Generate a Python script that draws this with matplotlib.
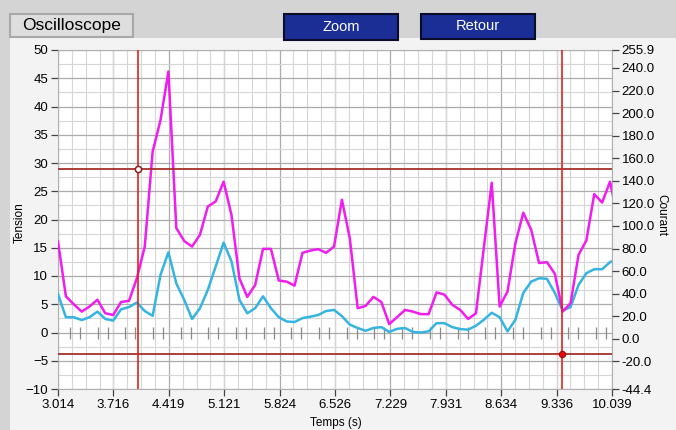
import numpy as np
import matplotlib.pyplot as plt
from matplotlib.patches import Rectangle, FancyBboxPatch
from matplotlib.ticker import FixedLocator, MultipleLocator, FormatStrFormatter

plt.rcParams['font.family'] = ['Liberation Sans', 'DejaVu Sans']

t_start = 3.014
t_end = 10.039
dt = 0.1  # pas d'échantillonnage

tension = [16.1, 6.4, 5.0, 3.7, 4.6, 5.8, 3.4, 3.1, 5.4, 5.6,
           9.6, 15.2, 32.0, 37.6, 46.2, 18.5, 16.2, 15.2, 17.3, 22.3,
           23.2, 26.7, 20.8, 9.6, 6.3, 8.4, 14.8, 14.8, 9.2, 9.0,
           8.3, 14.1, 14.5, 14.75, 14.1, 15.2, 23.5, 16.7, 4.3, 4.7,
           6.3, 5.4, 1.5, 2.7, 4.0, 3.7, 3.25, 3.25, 7.1, 6.7,
           4.9, 4.0, 2.4, 3.4, 15.0, 26.5, 4.6, 7.25, 15.8, 21.2,
           18.2, 12.3, 12.45, 10.4, 3.7, 5.2, 13.7, 16.3, 24.5, 23.0,
           26.7, 20.0]

courant = [6.8, 2.7, 2.7, 2.2, 2.7, 3.7, 2.4, 2.1, 4.1, 4.5,
           5.3, 3.8, 2.95, 10.2, 14.2, 8.7, 5.8, 2.4, 4.3, 7.55,
           11.7, 15.9, 12.6, 5.8, 3.4, 4.3, 6.4, 4.3, 2.7, 1.95,
           1.85, 2.55, 2.8, 3.1, 3.8, 4.0, 2.9, 1.4, 0.8, 0.3,
           0.8, 0.95, 0.1, 0.65, 0.8, 0.1, 0.0, 0.2, 1.65, 1.65,
           0.95, 0.6, 0.5, 1.2, 2.25, 3.5, 2.7, 0.2, 2.25, 7.0,
           9.0, 9.6, 9.5, 7.0, 3.9, 4.5, 8.4, 10.5, 11.2, 11.2,
           12.45, 13.0]

x_ticks = [3.014, 3.716, 4.419, 5.121, 5.824, 6.526, 7.229, 7.931, 8.634, 9.336, 10.039]
y_ticks = [-10, -5, 0, 5, 10, 15, 20, 25, 30, 35, 40, 45, 50]
right_lim = (-44.4, 255.9)
right_ticks = [-44.4, -20.0, 0.0, 20.0, 40.0, 60.0, 80.0, 100.0, 120.0,
               140.0, 160.0, 180.0, 200.0, 220.0, 240.0, 255.9]

# curseurs
cursor_t = [4.028, 9.405]
cursor_v = [28.95, -3.8]

# marques d'événements sur la ligne 0
event_times = [3.166, 3.293, 3.517, 3.644, 3.868, 3.995, 4.219, 4.346,
               4.570, 4.697, 4.921, 5.048, 5.272, 5.399, 5.623, 5.750,
               5.974, 6.101, 6.325, 6.452, 6.676, 6.803, 7.027, 7.154,
               7.378, 7.505, 7.729, 7.856, 8.080, 8.207, 8.431, 8.558,
               8.782, 8.909, 9.133, 9.260, 9.484, 9.611, 9.835, 9.962]

t = t_start + dt * np.arange(len(tension))

W, H = 676, 430
fig = plt.figure(figsize=(W / 100, H / 100), dpi=100, facecolor='#d4d4d4')

# panneau clair
fig.patches.append(Rectangle((10 / W, 0), 1 - 10 / W, (H - 38) / H, transform=fig.transFigure,
                             facecolor='#f3f3f3', edgecolor='none', zorder=-10))


def button(x0, y0, x1, y1, text, face, edge, tcolor, size):
    fig.patches.append(FancyBboxPatch((x0 / W, 1 - y1 / H), (x1 - x0) / W, (y1 - y0) / H,
                                      boxstyle='square,pad=0', transform=fig.transFigure,
                                      facecolor=face, edgecolor=edge, lw=1.5, zorder=-5))
    fig.text((x0 + x1) / 2 / W, 1 - (y0 + y1) / 2 / H, text, color=tcolor, fontsize=size,
             ha='center', va='center')


button(10, 14, 133, 37, 'Oscilloscope', '#dedede', '#a8a8a8', 'black', 12.5)
button(284, 14, 398, 40, 'Zoom', '#1b2e95', '#0b0b2a', 'white', 10.5)
button(421, 14, 535, 39, 'Retour', '#1b2e95', '#0b0b2a', 'white', 10.5)

ax = fig.add_axes([58 / W, 41 / H, 554 / W, 339 / H])
ax.set_facecolor('white')
ax.set_xlim(t_start, t_end)
ax.set_ylim(-10, 50)

ax.set_xticks(x_ticks)
ax.set_xticklabels([f'{v:.3f}' for v in x_ticks])
ax.xaxis.set_minor_locator(FixedLocator(np.linspace(t_start, t_end, 41)))
ax.set_yticks(y_ticks)
ax.yaxis.set_minor_locator(MultipleLocator(2.5))

ax.grid(which='major', color='#ababab', lw=0.9)
ax.grid(which='minor', color='#d6d6d6', lw=0.8)
ax.set_axisbelow(True)
ax.tick_params(which='major', direction='out', length=5, width=0.9, color='#444444',
               labelsize=9.5, pad=2)
ax.tick_params(which='minor', length=0)
for s in ax.spines.values():
    s.set_color('#b0b0b0')
    s.set_linewidth(0.8)

ax.plot(event_times, np.zeros(len(event_times)), linestyle='none', marker='|',
        markersize=9, mew=0.9, color='#8a8a8a', zorder=2)

ax.plot(t, courant, color='#35b4e2', lw=1.8, zorder=4, clip_on=True)
ax.plot(t, tension, color='#f01cf0', lw=1.8, zorder=5, clip_on=True)

for v in cursor_v:
    ax.axhline(v, color='#a5302a', lw=1.3, zorder=6)
for c in cursor_t:
    ax.axvline(c, color='#e3211c', lw=1.2, zorder=6)
ax.plot(cursor_t[0], cursor_v[0], marker='o', markersize=4.5, mfc='white', mec='#8b2020',
        mew=1.1, zorder=7)
ax.plot(cursor_t[1], cursor_v[1], marker='o', markersize=4.5, mfc='#e01010', mec='#b00000',
        mew=0.8, zorder=7)

ax.set_ylabel('Tension', fontsize=8.5, va='center', ha='center')
ax.yaxis.set_label_coords(-0.0686, 0.49)
ax.set_xlabel('Temps (s)', fontsize=8.5, va='center')
ax.xaxis.set_label_coords(0.502, -0.10)

ax2 = ax.twinx()
ax2.set_ylim(*right_lim)
ax2.set_yticks(right_ticks)
ax2.yaxis.set_major_formatter(FormatStrFormatter('%.1f'))
ax2.tick_params(direction='out', length=5, width=0.9, color='#444444', labelsize=9.5, pad=2)
for s in ax2.spines.values():
    s.set_visible(False)
ax2.set_ylabel('Courant', fontsize=8.5, rotation=270, va='center', ha='center')
ax2.yaxis.set_label_coords(1.09, 0.513)

fig.savefig('out.png', dpi=100, facecolor=fig.get_facecolor())
